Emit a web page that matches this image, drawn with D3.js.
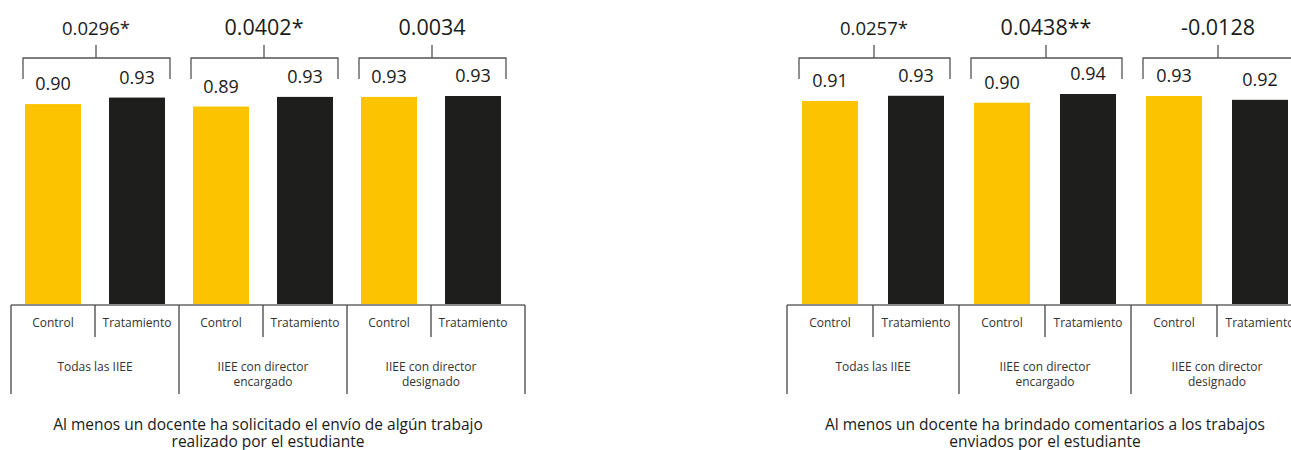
<!DOCTYPE html>
<html>
  <head>
    <meta charset="UTF-8" />
    <title>Docentes - Control vs Tratamiento</title>
    <script src="https://cdn.jsdelivr.net/npm/d3@7/dist/d3.min.js"></script>
    <style>
      body {
        margin: 0;
        background: #fff;
      }
      svg {
        font-family: "Open Sans", sans-serif;
      }
    </style>
  </head>
  <body>
    <div class="chart"></div>

    <script>
      // data
      let arms = ["Control", "Tratamiento"];
      let groupLabels = [
        ["Todas las IIEE"],
        ["IIEE con director", "encargado"],
        ["IIEE con director", "designado"],
      ];

      let solicitudControl = [0.897, 0.886, 0.929];
      let solicitudTratamiento = [0.926, 0.929, 0.933];
      let solicitudDiff = ["0.0296*", "0.0402*", "0.0034"];
      let solicitudTitle = [
        "Al menos un docente ha solicitado el envío de algún trabajo",
        "realizado por el estudiante",
      ];

      let comentariosControl = [0.911, 0.903, 0.933];
      let comentariosTratamiento = [0.934, 0.942, 0.916];
      let comentariosDiff = ["0.0257*", "0.0438**", "-0.0128"];
      let comentariosTitle = [
        "Al menos un docente ha brindado comentarios a los trabajos",
        "enviados por el estudiante",
      ];

      let yellow = "#fbc300";
      let black = "#1e1e1c";
      let diffSizes = [18.5, 21.5, 21.5];

      let svg = d3
        .select(".chart")
        .append("svg")
        .attr("width", 1291)
        .attr("height", 450);

      let y = d3.scaleLinear().domain([0, 1]).range([305, 81]);
      let fmt = d3.format(".2f");

      function drawPanel(left, width, axisEnd, control, trat, diffs, title) {
        let g = svg.append("g").attr("transform", `translate(${left},0)`);

        let gx = d3
          .scaleBand()
          .domain(d3.range(groupLabels.length))
          .range([0, width]);
        let sx = d3.scaleBand().domain(arms).range([0, gx.bandwidth()]);
        let barW = 56;

        let rows = [];
        control.forEach((v, i) => {
          rows.push({ g: i, arm: arms[0], v: v, color: yellow });
          rows.push({ g: i, arm: arms[1], v: trat[i], color: black });
        });

        let cx = (d) => gx(d.g) + sx(d.arm) + sx.bandwidth() / 2;

        // bars
        g.selectAll("rect.bar")
          .data(rows)
          .enter()
          .append("rect")
          .attr("class", "bar")
          .attr("x", (d) => cx(d) - barW / 2)
          .attr("width", barW)
          .attr("y", (d) => y(d.v))
          .attr("height", (d) => y(0) - y(d.v))
          .attr("fill", (d) => d.color);

        // value labels
        g.selectAll("text.val")
          .data(rows)
          .enter()
          .append("text")
          .attr("x", cx)
          .attr("y", (d) => y(d.v) - 14)
          .attr("text-anchor", "middle")
          .attr("font-size", 18)
          .attr("fill", "#1a1a1a")
          .text((d) => fmt(d.v));

        // brackets with difference
        diffs.forEach((t, i) => {
          let x0 = gx(i) + 12;
          let x1 = gx(i) + gx.bandwidth() - 9;
          let xm = gx(i) + gx.bandwidth() / 2 + 1;
          g.append("path")
            .attr("d", `M${x0},79V58H${x1}V79M${xm},58V45`)
            .attr("fill", "none")
            .attr("stroke", "#555")
            .attr("stroke-width", 1.3);
          g.append("text")
            .attr("x", xm)
            .attr("y", 35)
            .attr("text-anchor", "middle")
            .attr("font-size", diffSizes[i])
            .attr("fill", "#1a1a1a")
            .text(t);
        });

        // category axis
        g.append("line")
          .attr("x1", 0)
          .attr("x2", axisEnd)
          .attr("y1", y(0))
          .attr("y2", y(0))
          .attr("stroke", "#8c8c8c")
          .attr("stroke-width", 2);

        let groupEdges = d3.range(groupLabels.length).map((i) => gx(i));
        groupEdges.push(axisEnd);
        groupEdges.forEach((x) => {
          g.append("line")
            .attr("x1", x)
            .attr("x2", x)
            .attr("y1", y(0))
            .attr("y2", 394)
            .attr("stroke", "#444")
            .attr("stroke-width", 1.3);
        });

        groupLabels.forEach((lines, i) => {
          g.append("line")
            .attr("x1", gx(i) + sx(arms[1]))
            .attr("x2", gx(i) + sx(arms[1]))
            .attr("y1", y(0))
            .attr("y2", 337)
            .attr("stroke", "#444")
            .attr("stroke-width", 1.3);

          arms.forEach((a) => {
            g.append("text")
              .attr("x", gx(i) + sx(a) + sx.bandwidth() / 2)
              .attr("y", 327)
              .attr("text-anchor", "middle")
              .attr("font-size", 12)
              .attr("fill", "#333")
              .text(a);
          });

          let t = g
            .append("text")
            .attr("text-anchor", "middle")
            .attr("font-size", 12)
            .attr("fill", "#333");
          lines.forEach((l, j) => {
            t.append("tspan")
              .attr("x", gx(i) + gx.bandwidth() / 2)
              .attr("y", 371 + j * 14.5)
              .text(l);
          });
        });

        // title
        let tt = g
          .append("text")
          .attr("text-anchor", "middle")
          .attr("font-size", 15.5)
          .attr("fill", "#1a1a1a");
        title.forEach((l, j) => {
          tt.append("tspan")
            .attr("x", axisEnd / 2)
            .attr("y", 430 + j * 17)
            .text(l);
        });
      }

      drawPanel(11, 504, 514, solicitudControl, solicitudTratamiento, solicitudDiff, solicitudTitle);
      drawPanel(787, 516, 516, comentariosControl, comentariosTratamiento, comentariosDiff, comentariosTitle);
    </script>
  </body>
</html>
